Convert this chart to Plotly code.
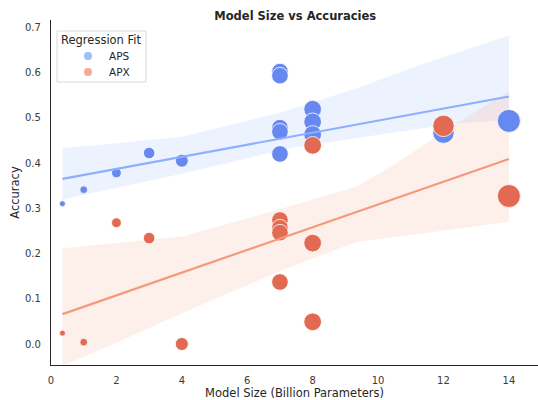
import numpy as np
import plotly.graph_objects as go

# ---- data ----
aps_size = [0.35, 1, 2, 3, 4, 7, 7, 7, 7, 7, 8, 8, 8, 12, 14]
aps_acc = [0.310, 0.341, 0.378, 0.422, 0.405, 0.602, 0.593, 0.478, 0.469, 0.420,
           0.519, 0.491, 0.463, 0.467, 0.493]

apx_size = [0.35, 1, 2, 3, 4, 7, 7, 7, 7, 8, 8, 8, 12, 14]
apx_acc = [0.024, 0.004, 0.268, 0.234, 0.000, 0.274, 0.257, 0.246, 0.137,
           0.439, 0.223, 0.049, 0.482, 0.327]

# fitted regression lines (at the ends of the data range)
aps_fit_x = [0.35, 14]
aps_fit = [0.365, 0.547]
apx_fit_x = [0.35, 14]
apx_fit = [0.066, 0.409]

# 95% confidence bands (bootstrap)
aps_ci_up_x = [0.35, 1.5, 4, 7.1, 9.35, 11.4, 14]
aps_ci_up = [0.433, 0.440, 0.458, 0.513, 0.565, 0.620, 0.681]
aps_ci_lo_x = [0.35, 1, 4, 7.3, 9.35, 12.4, 14]
aps_ci_lo = [0.318, 0.330, 0.376, 0.433, 0.455, 0.488, 0.495]

apx_ci_up_x = [0.35, 4, 7.1, 9.35, 10.4, 12.4, 14]
apx_ci_up = [0.2115, 0.237, 0.300, 0.348, 0.392, 0.488, 0.558]
apx_ci_lo_x = [0.35, 2, 4, 7.1, 9.35, 11.4, 14]
apx_ci_lo = [-0.048, 0.003, 0.068, 0.164, 0.226, 0.245, 0.270]

series_names = ["APS", "APX"]
legend_title = "Regression Fit"
x_ticks = [0, 2, 4, 6, 8, 10, 12, 14]
y_ticks = [0.0, 0.1, 0.2, 0.3, 0.4, 0.5, 0.6, 0.7]

# ---- styles ----
FONT = "DejaVu Sans"
DARK = "#262626"
BLUE_PT, RED_PT = "#6788EE", "#E26A52"
BLUE_LN, RED_LN = "#8DB0FE", "#F49A7B"
BLUE_FILL, RED_FILL = "rgba(141,176,254,0.16)", "rgba(244,154,123,0.16)"
LEG_SWATCH = ["rgba(141,176,254,0.85)", "rgba(244,154,123,0.85)"]


def diam(xs):
    xs = np.asarray(xs, dtype=float)
    return np.sqrt(36 + (xs - 0.35) / 13.65 * 493)


fig = go.Figure()

for ux, uy, lx, ly, col in [
    (aps_ci_up_x, aps_ci_up, aps_ci_lo_x, aps_ci_lo, BLUE_FILL),
    (apx_ci_up_x, apx_ci_up, apx_ci_lo_x, apx_ci_lo, RED_FILL),
]:
    fig.add_trace(go.Scatter(
        x=list(ux) + list(lx)[::-1], y=list(uy) + list(ly)[::-1],
        fill="toself", fillcolor=col, line=dict(width=0), mode="lines",
        hoverinfo="skip", showlegend=False))

for xs, ys, col, nm in [(aps_size, aps_acc, BLUE_PT, series_names[0]),
                        (apx_size, apx_acc, RED_PT, series_names[1])]:
    fig.add_trace(go.Scatter(
        x=xs, y=ys, mode="markers", showlegend=False, name=nm,
        marker=dict(size=diam(xs), color=col, opacity=1,
                    line=dict(color="white", width=0.8))))

for fx, fy, col in [(aps_fit_x, aps_fit, BLUE_LN), (apx_fit_x, apx_fit, RED_LN)]:
    fig.add_trace(go.Scatter(x=fx, y=fy, mode="lines", showlegend=False,
                             line=dict(color=col, width=2.2)))

# ---- compact legend box (matplotlib style) ----
# plot area: x 51..538 px, y 20..365 px
def px_x(p):
    return (p - 51) / 487.0


def px_y(p):
    return (365 - p) / 345.0


fig.add_shape(type="rect", xref="paper", yref="paper",
              x0=px_x(57), x1=px_x(146), y0=px_y(82), y1=px_y(31),
              line=dict(color="#D9D9D9", width=1), fillcolor="rgba(255,255,255,0.8)",
              layer="above")
fig.add_annotation(xref="paper", yref="paper", x=px_x(101.5), y=px_y(40.5),
                   text=legend_title, showarrow=False, xanchor="center", yanchor="middle",
                   font=dict(size=11.5, color=DARK, family=FONT))
for i, (nm, col) in enumerate(zip(series_names, LEG_SWATCH)):
    cy = 56 + 16 * i
    fig.add_shape(type="circle", xref="paper", yref="paper",
                  xsizemode="pixel", ysizemode="pixel",
                  xanchor=px_x(88), yanchor=px_y(cy), x0=-4, x1=4, y0=-4, y1=4,
                  fillcolor=col, line=dict(width=0), layer="above")
    fig.add_annotation(xref="paper", yref="paper", x=px_x(107), y=px_y(cy),
                       text=nm, showarrow=False, xanchor="left", yanchor="middle",
                       font=dict(size=10.5, color=DARK, family=FONT))

fig.update_layout(
    width=538, height=400,
    margin=dict(l=51, r=0, t=20, b=35, autoexpand=False),
    paper_bgcolor="white", plot_bgcolor="white",
    font=dict(family=FONT, size=10, color="#333333"),
    title=dict(text="<b>Model Size vs Accuracies</b>", x=0.5488, xanchor="center",
               y=0.96, yanchor="middle", font=dict(size=11.5, color=DARK)),
    showlegend=False,
)
fig.update_xaxes(
    range=[0, 14.89], tickvals=x_ticks, ticktext=[str(v) for v in x_ticks],
    showgrid=False, zeroline=False, showline=True, linecolor=DARK, linewidth=1.25,
    ticks="", ticklabelstandoff=6, tickfont=dict(size=10, color="#3A3A3A"), automargin=False,
    title=dict(text="Model Size (Billion Parameters)", font=dict(size=11.5, color=DARK),
               standoff=6))
fig.update_yaxes(
    range=[-0.0464, 0.716], tickvals=y_ticks, ticktext=[f"{v:.1f}" for v in y_ticks],
    showgrid=False, zeroline=False, showline=True, linecolor=DARK, linewidth=1.25,
    ticks="", ticklabelstandoff=7, tickfont=dict(size=10, color="#3A3A3A"), automargin=False,
    title=dict(text="Accuracy", font=dict(size=11.5, color=DARK), standoff=2))

fig.write_html("out.html", config={"displayModeBar": False},
               post_script="document.body.style.margin='0';")
